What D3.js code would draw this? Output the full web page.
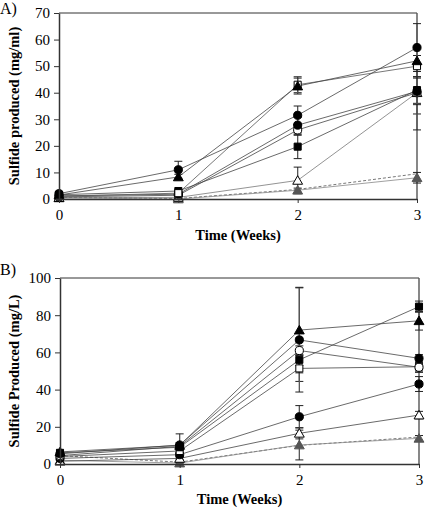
<!DOCTYPE html>
<html><head><meta charset="utf-8">
<script src="https://cdn.jsdelivr.net/npm/d3@7"></script>
<style>
html,body{margin:0;padding:0;background:#fff;}
svg{display:block;font-family:"Liberation Serif","Times New Roman",serif;}
</style></head>
<body><svg id="c" width="425" height="510"></svg>
<script>
// ---------- DATA ----------
const weeks = [0, 1, 2, 3];
const weekTicks = [0, 1, 2, 3];
const aTicks = [0, 10, 20, 30, 40, 50, 60, 70];
const bTicks = [0, 20, 40, 60, 80, 100];

// Panel A (mg/ml)
const aFilledCircle    = [2.0, 11.0, 31.5, 57.0];
const aFilledCircleErr = [0.5, 3.2, 3.5, 9.0];
const aFilledTriangle    = [1.5, 8.3, 42.5, 52.0];
const aFilledTriangleErr = [0.4, 1.0, 3.0, 2.0];
const aOpenSquare    = [1.0, 2.2, 43.0, 50.0];
const aOpenSquareErr = [0.3, 0.5, 3.0, 4.0];
const aFilledCircle2    = [1.2, 1.8, 27.8, 40.5];
const aFilledCircle2Err = [0.3, 0.4, 3.0, 5.0];
const aOpenCircle    = [0.8, 1.4, 26.0, 40.0];
const aOpenCircleErr = [0.3, 0.4, 2.0, 14.0];
const aFilledSquare    = [1.6, 3.0, 19.7, 41.0];
const aFilledSquareErr = [0.4, 0.5, 4.5, 5.0];
const aOpenTriangle    = [0.5, 0.6, 7.0, 40.0];
const aOpenTriangleErr = [0.2, 0.3, 5.0, 8.0];
const aGrayTriangle    = [0.4, 0.0, 3.3, 8.0];
const aGrayTriangleErr = [0.2, 0.1, 0.8, 2.0];
const aGrayDashed    = [0.6, 0.2, 3.6, 9.5];

// Panel B (mg/L)
const bFilledSquare    = [6.0, 9.0, 56.0, 84.6];
const bFilledSquareErr = [1.0, 1.0, 3.0, 3.0];
const bFilledTriangle    = [6.5, 10.0, 72.0, 77.0];
const bFilledTriangleErr = [1.0, 1.5, 23.0, 5.0];
const bFilledCircle    = [5.5, 10.2, 66.7, 56.8];
const bFilledCircleErr = [1.0, 6.0, 28.0, 2.0];
const bOpenCircle    = [4.5, 9.5, 61.0, 52.0];
const bOpenCircleErr = [1.0, 1.0, 2.5, 2.5];
const bOpenSquare    = [4.0, 7.0, 51.4, 52.3];
const bOpenSquareErr = [1.0, 1.0, 7.0, 3.0];
const bFilledCircle2    = [3.0, 5.0, 25.4, 43.0];
const bFilledCircle2Err = [1.0, 1.0, 6.0, 4.0];
const bOpenTriangle    = [1.5, 3.0, 16.5, 26.3];
const bOpenTriangleErr = [0.5, 0.5, 3.0, 2.0];
const bGrayTriangle    = [2.0, 0.5, 10.2, 13.8];
const bGrayTriangleErr = [0.5, 0.3, 8.0, 1.5];
const bGrayDashed    = [4.5, 1.0, 10.0, 14.5];

// ---------- STYLE ----------
const svg = d3.select("#c");
const sym = {
  circle: d3.symbol().type(d3.symbolCircle).size(52),
  triangle: d3.symbol().type(d3.symbolTriangle).size(42),
  square: d3.symbol().type(d3.symbolSquare).size(50)
};

function panel(cfg) {
  const x = d3.scaleLinear().domain([0, 3]).range(cfg.xr);
  const y = d3.scaleLinear().domain(cfg.yd).range(cfg.yr);
  const g = svg.append("g");

  // frame top/right
  g.append("line").attr("x1", x(0)).attr("x2", x(3)).attr("y1", y(cfg.yd[1])).attr("y2", y(cfg.yd[1]))
    .attr("stroke", "#333").attr("stroke-width", 1);
  g.append("line").attr("x1", x(3)).attr("x2", x(3)).attr("y1", y(cfg.yd[1])).attr("y2", y(0))
    .attr("stroke", "#555").attr("stroke-width", 1.4);

  const line = d3.line().x((d, i) => x(weeks[i])).y(d => y(d));
  cfg.series.forEach(s => {
    g.append("path").attr("d", line(s.v)).attr("fill", "none")
      .attr("stroke", s.lc || "#444").attr("stroke-width", 0.8)
      .attr("stroke-dasharray", s.dash || null);
  });
  // error bars
  cfg.series.forEach(s => {
    if (!s.e) return;
    s.v.forEach((v, i) => {
      const e = s.e[i]; if (!e) return;
      const cx = x(weeks[i]);
      const lo = Math.max(0, v - e), hi = Math.min(cfg.yd[1], v + e);
      g.append("line").attr("x1", cx).attr("x2", cx).attr("y1", y(lo)).attr("y2", y(hi))
        .attr("stroke", "#555").attr("stroke-width", 1.3);
      [v - e, v + e].forEach(c => {
        if (c < 0 || c > cfg.yd[1]) return;
        g.append("line").attr("x1", cx - 4).attr("x2", cx + 4).attr("y1", y(c)).attr("y2", y(c))
          .attr("stroke", "#222").attr("stroke-width", 1);
      });
    });
  });
  // markers
  cfg.series.forEach(s => {
    if (!s.m) return;
    s.v.forEach((v, i) => {
      g.append("path").attr("d", sym[s.m]())
        .attr("transform", `translate(${x(weeks[i])},${y(v) + (s.m === "triangle" ? 1 : 0)})`)
        .attr("fill", s.open ? "#fff" : (s.fill || "#000"))
        .attr("stroke", s.fill || "#000").attr("stroke-width", 1);
    });
  });

  // axes
  const ya = g.append("g").attr("transform", `translate(${x(0)},0)`)
    .call(d3.axisLeft(y).tickValues(cfg.yt).tickSize(5).tickPadding(4).tickSizeOuter(0));
  const xa = g.append("g").attr("transform", `translate(0,${y(0)})`)
    .call(d3.axisBottom(x).tickValues(weekTicks).tickSize(4).tickPadding(6).tickSizeOuter(0).tickFormat(d3.format("d")));
  [ya, xa].forEach(a => {
    a.attr("font-family", "Liberation Serif");
    a.selectAll("path.domain").attr("stroke", "#333").attr("stroke-width", 1.5);
    a.selectAll(".tick line").attr("stroke", "#333");
    a.selectAll("text").attr("font-family", "Liberation Serif").attr("font-size", 15).attr("fill", "#000");
  });

  g.append("text").attr("x", 0).attr("y", cfg.labelY).text(cfg.label)
    .attr("font-size", 16).attr("fill", "#000");
  g.append("text").attr("transform", `translate(${cfg.ytitleX},${(cfg.yr[0] + cfg.yr[1]) / 2}) rotate(-90)`)
    .attr("text-anchor", "middle").attr("font-weight", "bold").attr("font-size", 14.5).text(cfg.ytitle);
  g.append("text").attr("x", (cfg.xr[0] + cfg.xr[1]) / 2).attr("y", cfg.xtitleY)
    .attr("text-anchor", "middle").attr("font-weight", "bold").attr("font-size", 14.5).text("Time (Weeks)");
}

panel({
  xr: [59, 417], yd: [0, 70], yr: [199, 13], yt: aTicks,
  label: "A)", labelY: 14, ytitle: "Sulfide produced (mg/ml)", ytitleX: 19, xtitleY: 240,
  series: [
    { v: aGrayDashed, lc: "#555", dash: "3,2" },
    { v: aGrayTriangle, e: aGrayTriangleErr, m: "triangle", fill: "#555", lc: "#888" },
    { v: aOpenTriangle, e: aOpenTriangleErr, m: "triangle", open: true, lc: "#777" },
    { v: aFilledSquare, e: aFilledSquareErr, m: "square" },
    { v: aOpenCircle, e: aOpenCircleErr, m: "circle", open: true },
    { v: aFilledCircle2, e: aFilledCircle2Err, m: "circle" },
    { v: aOpenSquare, e: aOpenSquareErr, m: "square", open: true, lc: "#555" },
    { v: aFilledTriangle, e: aFilledTriangleErr, m: "triangle" },
    { v: aFilledCircle, e: aFilledCircleErr, m: "circle" }
  ]
});

panel({
  xr: [60, 419], yd: [0, 100], yr: [464, 278], yt: bTicks,
  label: "B)", labelY: 275, ytitle: "Sulfide Produced (mg/L)", ytitleX: 19, xtitleY: 504,
  series: [
    { v: bGrayDashed, lc: "#555", dash: "3,2" },
    { v: bGrayTriangle, e: bGrayTriangleErr, m: "triangle", fill: "#555", lc: "#888" },
    { v: bOpenTriangle, e: bOpenTriangleErr, m: "triangle", open: true },
    { v: bFilledCircle2, e: bFilledCircle2Err, m: "circle" },
    { v: bOpenSquare, e: bOpenSquareErr, m: "square", open: true },
    { v: bOpenCircle, e: bOpenCircleErr, m: "circle", open: true },
    { v: bFilledCircle, e: bFilledCircleErr, m: "circle" },
    { v: bFilledTriangle, e: bFilledTriangleErr, m: "triangle" },
    { v: bFilledSquare, e: bFilledSquareErr, m: "square" }
  ]
});
</script></body></html>
